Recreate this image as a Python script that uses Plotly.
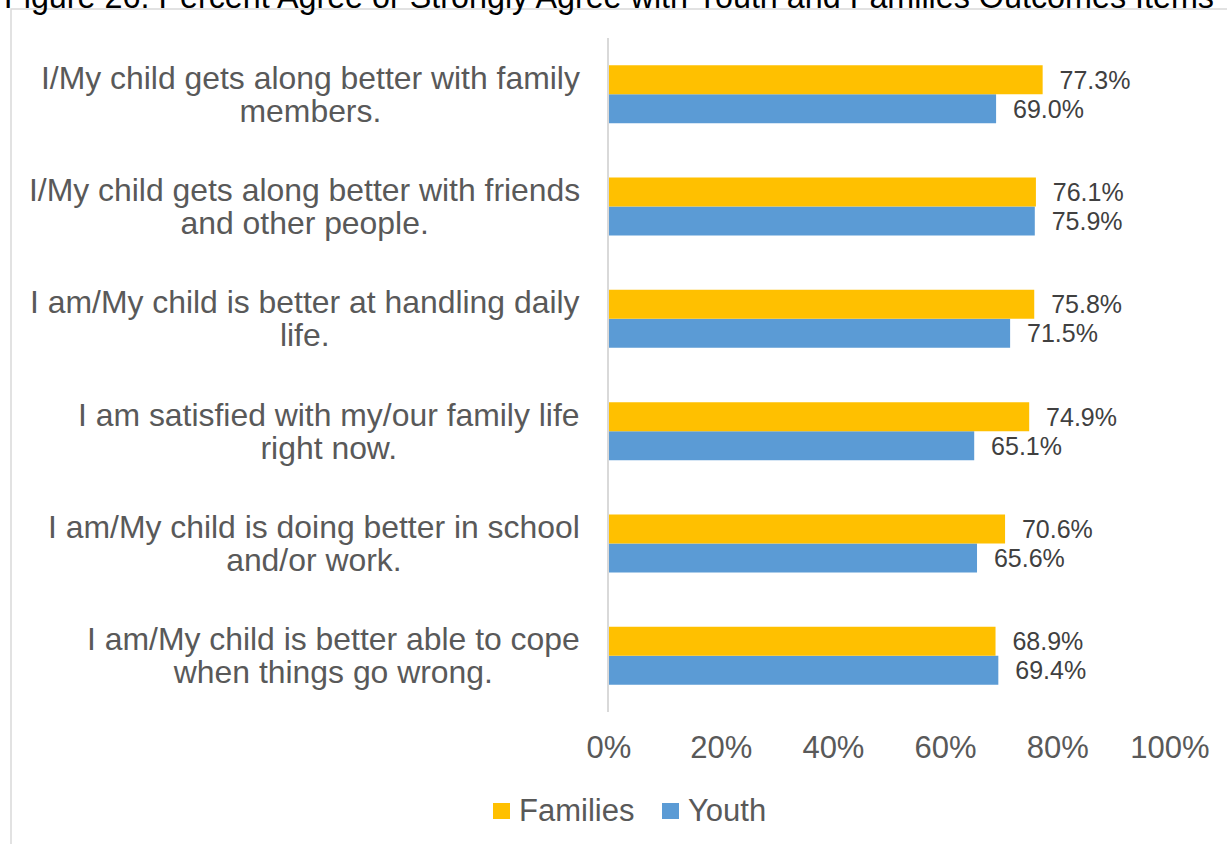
import plotly.graph_objects as go

# Survey items (top to bottom) and percent agreeing
items = [
    "I/My child gets along better with family<br>members.",
    "I/My child gets along better with friends<br>and other people.",
    "I am/My child is better at handling daily<br>life.",
    "I am satisfied with my/our family life<br>right now.",
    "I am/My child is doing better in school<br>and/or work.",
    "I am/My child is better able to cope<br>when things go wrong.",
]
families = [77.3, 76.1, 75.8, 74.9, 70.6, 68.9]
youth = [69.0, 75.9, 71.5, 65.1, 65.6, 69.4]
tick_vals = [0, 20, 40, 60, 80, 100]
tick_text = ["0%", "20%", "40%", "60%", "80%", "100%"]

title_text = "Figure 26. Percent Agree or Strongly Agree with Youth and Families Outcomes Items"

W, H = 1227, 844
L, R, T, B = 609, 1170, 38, 712

FAM_COLOR = "#FFC000"
YOUTH_COLOR = "#5B9BD5"
TEXT_GRAY = "#595959"
FONT = "Liberation Sans, Arial, sans-serif"


def px_x(p):
    return (p - L) / (R - L)


def px_y(p):
    return (B - p) / (B - T)


keys = [f"item{i}" for i in range(len(items))]
order = list(reversed(keys))  # first item at the top

fig = go.Figure()
fig.add_trace(go.Bar(
    y=keys, x=youth, orientation="h", name="Youth",
    marker=dict(color=YOUTH_COLOR, line=dict(width=0)),
    text=[f"\u00a0\u00a0{v:.1f}%" for v in youth], textposition="outside",
    textfont=dict(size=25, color="#404040", family=FONT),
    cliponaxis=False, showlegend=False, hoverinfo="skip",
))
fig.add_trace(go.Bar(
    y=keys, x=families, orientation="h", name="Families",
    marker=dict(color=FAM_COLOR, line=dict(width=0)),
    text=[f"\u00a0\u00a0{v:.1f}%" for v in families], textposition="outside",
    textfont=dict(size=25, color="#404040", family=FONT),
    cliponaxis=False, showlegend=False, hoverinfo="skip",
))

annotations = []
# Item labels, centred lines, right edge next to the axis
for k, txt in zip(keys, items):
    annotations.append(dict(
        x=px_x(582), xref="paper", y=k, yref="y",
        text=f'<span style="font-size:31.9px">{txt}</span>',
        showarrow=False, xanchor="right", yanchor="middle", align="center",
        font=dict(size=25.4, color=TEXT_GRAY, family=FONT),
    ))

# Chart title (runs off the top edge)
annotations.append(dict(
    x=px_x(2), xref="paper", y=px_y(17), yref="paper",
    text=title_text, showarrow=False, xanchor="left", yanchor="bottom",
    font=dict(size=32.3, color="#000000", family=FONT),
))

# Legend
legend_items = [("Families", FAM_COLOR, 493), ("Youth", YOUTH_COLOR, 662)]
shapes = []
for name, color, x0 in legend_items:
    shapes.append(dict(
        type="rect", xref="paper", yref="paper",
        x0=px_x(x0), x1=px_x(x0 + 17), y0=px_y(819), y1=px_y(803),
        fillcolor=color, line=dict(width=0),
    ))
    annotations.append(dict(
        x=px_x(x0 + 24), xref="paper", y=px_y(811), yref="paper",
        text=name, showarrow=False, xanchor="left", yanchor="middle",
        font=dict(size=31, color=TEXT_GRAY, family=FONT),
    ))

# Outer chart frame
shapes.append(dict(
    type="rect", xref="paper", yref="paper",
    x0=px_x(11), x1=px_x(1240), y0=px_y(860), y1=px_y(9),
    line=dict(color="#D9D9D9", width=1.5), fillcolor="rgba(0,0,0,0)",
    layer="below",
))

fig.update_layout(
    width=W, height=H,
    margin=dict(l=L, r=W - R, t=T, b=H - B, pad=0),
    paper_bgcolor="white", plot_bgcolor="white",
    barmode="group", bargap=0.483, bargroupgap=0,
    annotations=annotations, shapes=shapes,
    font=dict(family=FONT, color=TEXT_GRAY),
    xaxis=dict(
        range=[0, 100], tickvals=tick_vals, ticktext=tick_text,
        showgrid=False, zeroline=False, showline=False, ticks="",
        tickfont=dict(size=31, color=TEXT_GRAY, family=FONT),
        ticklabelstandoff=14,
    ),
    yaxis=dict(
        type="category", categoryorder="array", categoryarray=order,
        showticklabels=False, showgrid=False, zeroline=False,
        showline=True, linecolor="#D9D9D9", linewidth=1.5, ticks="",
    ),
)

fig.write_html("out.html")
